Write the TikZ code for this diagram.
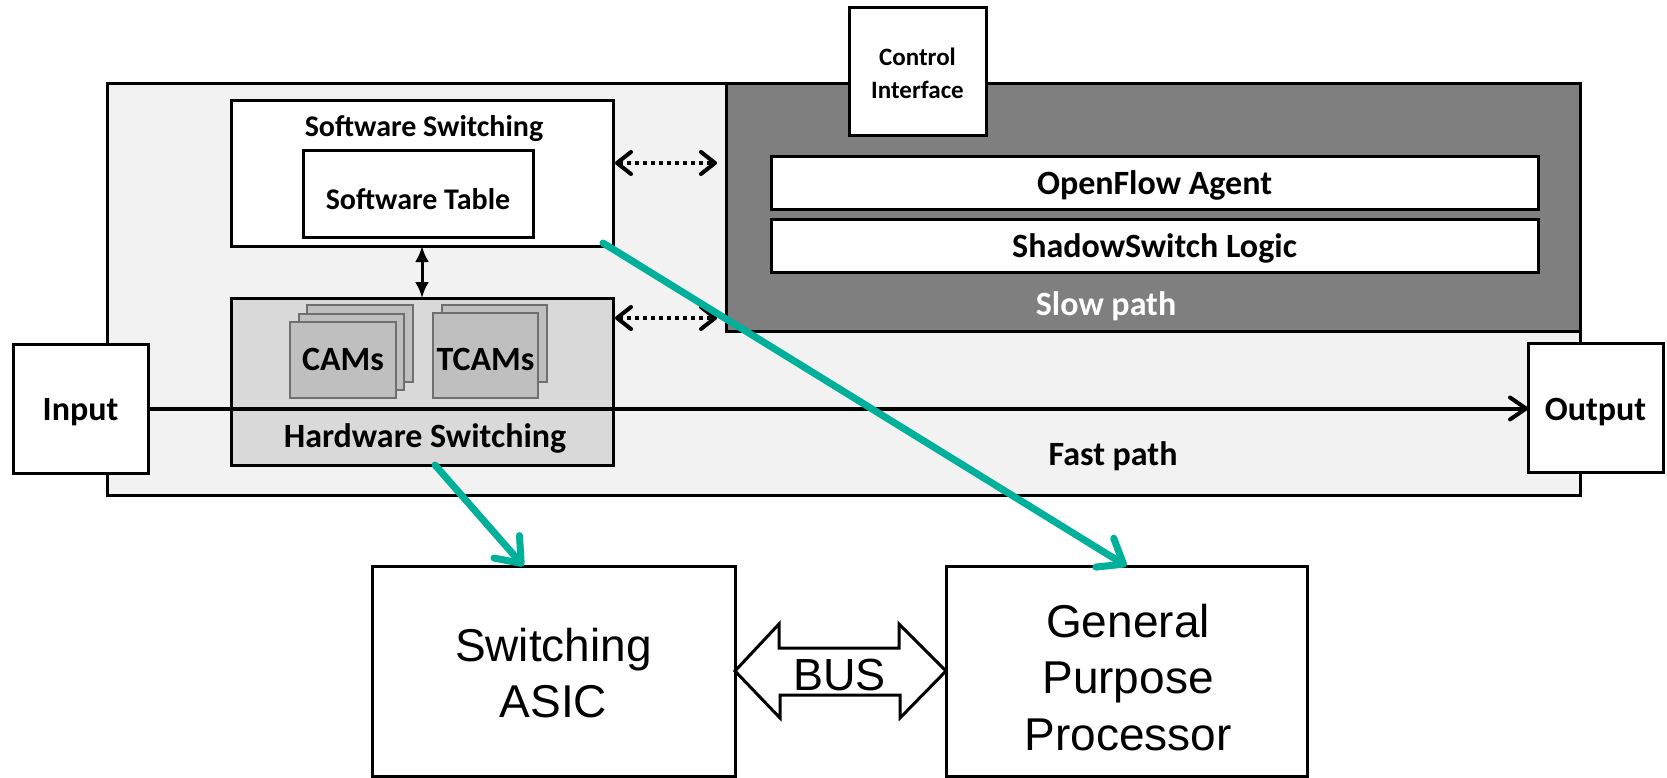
\documentclass[tikz,border=0pt]{standalone}
\usepackage{fontspec}
\setmainfont{Carlito}
\newfontfamily\arialfont{Liberation Sans}
\usetikzlibrary{arrows.meta,calc}

\definecolor{chassisfill}{HTML}{F2F2F2}
\definecolor{slowfill}{HTML}{7F7F7F}
\definecolor{hwfill}{HTML}{D9D9D9}
\definecolor{cardfill}{HTML}{BFBFBF}
\definecolor{cardline}{HTML}{6F6F6F}
\definecolor{linkteal}{RGB}{0,176,155}

\tikzset{
  box/.style={draw=black, line width=3pt, inner sep=0pt, outer sep=0pt},
  card/.style={draw=cardline, fill=cardfill, line width=1.5pt, inner sep=0pt, outer sep=0pt},
  lbl/.style={font=\bfseries\fontsize{34}{40}\selectfont, inner sep=0pt, anchor=base},
  smalllbl/.style={font=\bfseries\fontsize{30}{36}\selectfont, inner sep=0pt, anchor=base},
  biglbl/.style={font=\arialfont\fontsize{46}{56.5}\selectfont, inner sep=0pt, align=center},
  dotarrow/.style={line width=4pt, dash pattern=on 4pt off 4pt,
    {Straight Barb[length=14pt,width=22pt,round]}-{Straight Barb[length=14pt,width=22pt,round]}},
  vertarrow/.style={line width=3pt, {Latex[length=16pt,width=14pt]}-{Latex[length=16pt,width=14pt]}},
  fastarrow/.style={line width=4pt, -{Straight Barb[length=16pt,width=22pt,round]}},
  tealarrow/.style={draw=linkteal, line width=7pt, line cap=round,
    -{Straight Barb[length=22pt,width=34pt,round]}},
  busarrow/.style={draw=black, fill=white, line width=3pt, line join=miter},
}

\begin{document}
\begin{tikzpicture}[x=1pt,y=-1pt]
\useasboundingbox (0,0) rectangle (1667,778);

% switch chassis and the slow path block
\node[box, fill=chassisfill, minimum width=1473pt, minimum height=411pt] (chassis) at (843.5,289.5) {};
\node[box, fill=slowfill, minimum width=854pt, minimum height=247pt] (slow) at (1153,207.5) {};
\node[box, fill=white, minimum width=137pt, minimum height=128pt] (ctrl) at (917.5,72) {};
\node[font=\bfseries\fontsize{25}{33}\selectfont, align=center, inner sep=0pt] (ctrltext) at (917.5,73) {Control\\Interface};
\node[box, fill=white, minimum width=767pt, minimum height=53pt] (agent) at (1154.5,183.5) {};
\node[lbl] (agenttext) at (1154.5,195) {OpenFlow Agent};
\node[box, fill=white, minimum width=767pt, minimum height=53pt] (logic) at (1154.5,245.5) {};
\node[lbl] (logictext) at (1154.5,257) {ShadowSwitch Logic};
\node[lbl, text=white] (slowtext) at (1106,315) {Slow path};

% software switching
\node[box, fill=white, minimum width=382pt, minimum height=145pt] (sw) at (422,173.5) {};
\node[smalllbl] (swtext) at (424,137) {Software Switching};
\node[box, fill=white, minimum width=230pt, minimum height=86pt] (table) at (418,194) {};
\node[smalllbl] (tabletext) at (418,210) {Software Table};

% hardware switching with its lookup memories
\node[box, fill=hwfill, minimum width=382pt, minimum height=167pt] (hw) at (422,381.5) {};
\node[card, minimum width=106pt, minimum height=77pt] (cam3) at (360,343.5) {};
\node[card, minimum width=105pt, minimum height=76pt] (cam2) at (351.5,352) {};
\node[card, minimum width=106pt, minimum height=76pt] (cam1) at (343,360) {};
\node[lbl] (camtext) at (343,370) {CAMs};
\node[card, minimum width=105pt, minimum height=77pt] (tcam2) at (494.5,343.5) {};
\node[card, minimum width=105pt, minimum height=85pt] (tcam1) at (485.5,355.5) {};
\node[lbl] (tcamtext) at (485.5,370) {TCAMs};
\node[lbl] (hwtext) at (425,447) {Hardware Switching};
\node[lbl] (fasttext) at (1113,465) {Fast path};

% ports
\node[box, fill=white, minimum width=135pt, minimum height=129pt] (input) at (80.5,408.5) {};
\node[lbl] (inputtext) at (80.5,420) {Input};
\node[box, fill=white, minimum width=135pt, minimum height=129pt] (output) at (1595.5,407.5) {};
\node[lbl] (outputtext) at (1595.5,420) {Output};

% links inside the switch
\draw[fastarrow] (input.east) -- (input.east -| output.west);
\draw[vertarrow] (sw.south) -- (hw.north);
\draw[dotarrow, shorten <=2pt, shorten >=9pt] ([yshift=10.5pt]sw.east) -- ([yshift=10.5pt]sw.east -| slow.west);
\draw[dotarrow, shorten <=2pt, shorten >=9pt] ([yshift=63.5pt]hw.east) -- ([yshift=63.5pt]hw.east -| slow.west);

% physical components
\node[box, fill=white, minimum width=363pt, minimum height=210pt] (asic) at (553.5,671) {};
\node[biglbl] (asictext) at (553.5,673) {Switching\\ASIC};
\node[box, fill=white, minimum width=361pt, minimum height=210pt] (gpp) at (1126.5,671) {};
\node[biglbl] (gpptext) at (1128,677.5) {General\\Purpose\\Processor};

% bus between ASIC and processor
\draw[busarrow] (asic.east) -- ++(44,-47) -- ++(0,24) -- ++(120,0) -- ++(0,-24)
  -- (gpp.west) -- ++(-46,47) -- ++(0,-23) -- ++(-120,0) -- ++(0,23) -- cycle;
\node[font=\arialfont\fontsize{45}{54}\selectfont, inner sep=0pt, anchor=base] (bustext) at (839.5,690) {BUS};

% mapping of logical blocks onto hardware
\draw[tealarrow] ([xshift=13pt]hw.south) -- ([xshift=-30pt]asic.north);
\draw[tealarrow] ([xshift=-10pt,yshift=3pt]sw.south east) -- (gpp.north);
\end{tikzpicture}
\end{document}
